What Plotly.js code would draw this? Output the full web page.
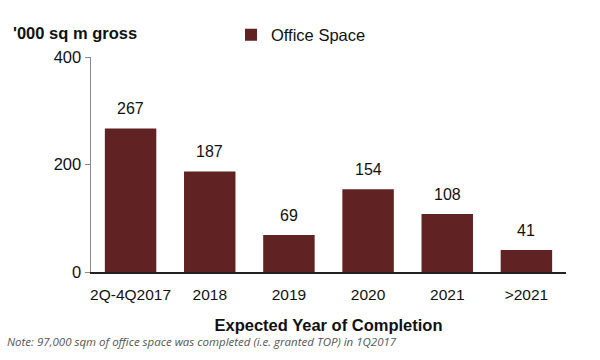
<!DOCTYPE html>
<html>
<head>
<meta charset="utf-8">
<script src="https://cdn.plot.ly/plotly-3.0.1.min.js"></script>
<style>html,body{margin:0;padding:0;background:#fff;}#chart{width:600px;height:360px;}</style>
</head>
<body>
<div id="chart"></div>
<script>
const categories = ["2Q-4Q2017", "2018", "2019", "2020", "2021", ">2021"];
const officeSpace = [267, 187, 69, 154, 108, 41];
const seriesName = "Office Space";
const yTicks = [0, 200, 400];

const barColor = "#612223";
const font = "Liberation Sans, Arial, sans-serif";

const labelAnnotations = categories.map((c, i) => ({
  x: i, y: officeSpace[i], xref: "x", yref: "y",
  text: String(officeSpace[i]), showarrow: false,
  yanchor: "bottom", yshift: 9,
  font: {family: font, size: 16, color: "#111"}
}));

const data = [{
  type: "bar",
  x: categories,
  y: officeSpace,
  name: seriesName,
  marker: {color: barColor},
  hoverinfo: "none"
}];

const layout = {
  width: 600, height: 360,
  margin: {l: 91, r: 34, t: 57, b: 88, autoexpand: false},
  paper_bgcolor: "#fff", plot_bgcolor: "#fff",
  bargap: 0.35,
  showlegend: true,
  legend: {
    orientation: "h", xref: "container", yref: "container",
    x: 0.385, y: 0.903, xanchor: "left", yanchor: "middle",
    font: {family: font, size: 16.5, color: "#111"},
    itemwidth: 30, bgcolor: "rgba(0,0,0,0)"
  },
  xaxis: {
    type: "category", range: [-0.5, categories.length - 0.5],
    showline: true, linecolor: "#222", linewidth: 1.5,
    ticks: "", showgrid: false, zeroline: false,
    ticklabelstandoff: 8,
    tickfont: {family: font, size: 15.5, color: "#111"},
    title: {text: "Expected Year of Completion", standoff: 17,
            font: {family: font, size: 16.5, color: "#111", weight: "bold"}}
  },
  yaxis: {
    range: [0, 400], tickvals: yTicks, ticktext: yTicks.map(String),
    showline: true, linecolor: "#888", linewidth: 1.5,
    ticks: "outside", ticklen: 5, tickcolor: "#888",
    showgrid: false, zeroline: false,
    tickfont: {family: font, size: 16.5, color: "#111"}
  },
  annotations: labelAnnotations.concat([
    {xref: "paper", yref: "paper", x: -0.168, y: 1.11, xanchor: "left", yanchor: "middle",
     text: "<b>'000 sq m gross</b>", showarrow: false,
     font: {family: font, size: 16.5, color: "#111"}},
    {xref: "paper", yref: "paper", x: -0.182, y: -0.325, xanchor: "left", yanchor: "middle",
     text: "<i>Note: 97,000 sqm of office space was completed (i.e. granted TOP) in 1Q2017</i>",
     showarrow: false,
     font: {family: "Open Sans, sans-serif", size: 11.5, color: "#555"}}
  ])
};

Plotly.newPlot("chart", data, layout, {displayModeBar: false, staticPlot: true});
</script>
</body>
</html>
